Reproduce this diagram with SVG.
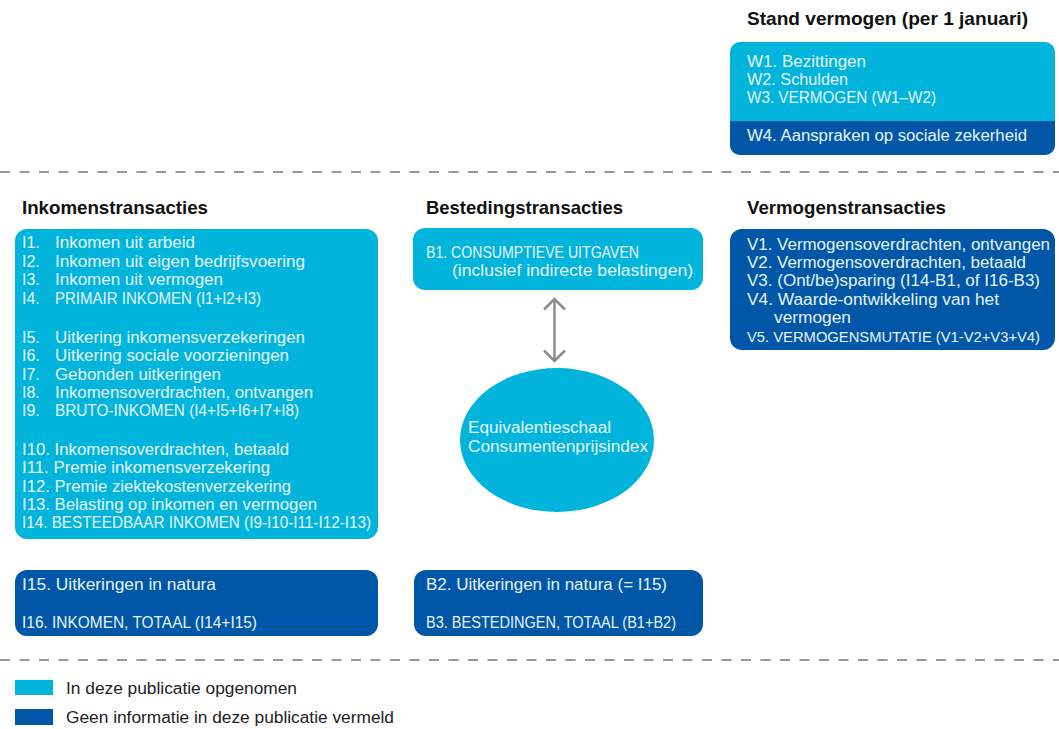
<svg xmlns="http://www.w3.org/2000/svg" width="1059" height="729" viewBox="0 0 1059 729">
<defs>
<style>
.t{font-family:"Liberation Sans",Arial,sans-serif;font-size:16px;fill:#E6F4FA}
.h{font-family:"Liberation Sans","Noto Sans",Arial,sans-serif;font-size:18.5px;font-weight:bold;fill:#111}
.lg{font-family:"Liberation Sans",Arial,sans-serif;font-size:16px;fill:#222}
.light{fill:#00B4DC}
.dark{fill:#0057A8}
.dash{stroke:#999;stroke-width:2;stroke-dasharray:10 9.5;fill:none}
</style>
<marker id="chev" viewBox="0 0 14 24" refX="12" refY="12" markerWidth="14" markerHeight="24" markerUnits="userSpaceOnUse" orient="auto-start-reverse">
<path d="M1.5,1.5 L12,12 L1.5,22.5" fill="none" stroke="#8c8c8c" stroke-width="2.5"/>
</marker>
</defs>
<rect width="1059" height="729" fill="#fff"/>

<g id="separators">
<line class="dash" x1="0" y1="172" x2="1059" y2="172"/>
<line class="dash" x1="0" y1="660" x2="1059" y2="660"/>
</g>

<g id="stand-vermogen">
<text class="h" x="747" y="25" textLength="281" lengthAdjust="spacingAndGlyphs">Stand vermogen (per 1 januari)</text>
<rect class="light" x="730" y="42" width="325" height="113" rx="10"/>
<path class="dark" d="M730,121 H1055 V145 A10,10 0 0 1 1045,155 H740 A10,10 0 0 1 730,145 Z"/>
<text class="t" x="747" y="67" textLength="119" lengthAdjust="spacingAndGlyphs">W1. Bezittingen</text>
<text class="t" x="747" y="85" textLength="101" lengthAdjust="spacingAndGlyphs">W2. Schulden</text>
<text class="t" x="747" y="103" textLength="189" lengthAdjust="spacingAndGlyphs">W3. VERMOGEN  (W1–W2)</text>
<text class="t" x="747" y="141" textLength="280" lengthAdjust="spacingAndGlyphs">W4. Aanspraken op sociale zekerheid</text>
</g>

<g id="inkomenstransacties">
<text class="h" x="22" y="214" textLength="186" lengthAdjust="spacingAndGlyphs">Inkomenstransacties</text>
<rect class="light" x="15" y="229" width="363" height="310" rx="12"/>
<text class="t" x="22" y="248">I1.</text><text class="t" x="55" y="248" textLength="140" lengthAdjust="spacingAndGlyphs">Inkomen uit arbeid</text>
<text class="t" x="22" y="267">I2.</text><text class="t" x="55" y="267" textLength="250" lengthAdjust="spacingAndGlyphs">Inkomen uit eigen bedrijfsvoering</text>
<text class="t" x="22" y="285">I3.</text><text class="t" x="55" y="285" textLength="168" lengthAdjust="spacingAndGlyphs">Inkomen uit vermogen</text>
<text class="t" x="22" y="304">I4.</text><text class="t" x="55" y="304" textLength="206" lengthAdjust="spacingAndGlyphs">PRIMAIR INKOMEN (I1+I2+I3)</text>
<text class="t" x="22" y="343">I5.</text><text class="t" x="55" y="343" textLength="250" lengthAdjust="spacingAndGlyphs">Uitkering inkomensverzekeringen</text>
<text class="t" x="22" y="361">I6.</text><text class="t" x="55" y="361" textLength="234" lengthAdjust="spacingAndGlyphs">Uitkering sociale voorzieningen</text>
<text class="t" x="22" y="380">I7.</text><text class="t" x="55" y="380" textLength="166" lengthAdjust="spacingAndGlyphs">Gebonden uitkeringen</text>
<text class="t" x="22" y="398">I8.</text><text class="t" x="55" y="398" textLength="258" lengthAdjust="spacingAndGlyphs">Inkomensoverdrachten, ontvangen</text>
<text class="t" x="22" y="416">I9.</text><text class="t" x="55" y="416" textLength="244" lengthAdjust="spacingAndGlyphs">BRUTO-INKOMEN (I4+I5+I6+I7+I8)</text>
<text class="t" x="22" y="455" textLength="267" lengthAdjust="spacingAndGlyphs">I10. Inkomensoverdrachten, betaald</text>
<text class="t" x="22" y="473" textLength="248" lengthAdjust="spacingAndGlyphs">I11. Premie inkomensverzekering</text>
<text class="t" x="22" y="492" textLength="269" lengthAdjust="spacingAndGlyphs">I12. Premie ziektekostenverzekering</text>
<text class="t" x="22" y="510" textLength="295" lengthAdjust="spacingAndGlyphs">I13. Belasting op inkomen en vermogen</text>
<text class="t" x="22" y="528" textLength="349" lengthAdjust="spacingAndGlyphs">I14. BESTEEDBAAR INKOMEN (I9-I10-I11-I12-I13)</text>
</g>

<g id="inkomen-natura">
<rect class="dark" x="15" y="570" width="363" height="66" rx="12"/>
<text class="t" x="22" y="590" textLength="194" lengthAdjust="spacingAndGlyphs">I15. Uitkeringen in natura</text>
<text class="t" x="22" y="628" textLength="235" lengthAdjust="spacingAndGlyphs">I16. INKOMEN, TOTAAL (I14+I15)</text>
</g>

<g id="bestedingstransacties">
<text class="h" x="426" y="214" textLength="197" lengthAdjust="spacingAndGlyphs">Bestedingstransacties</text>
<rect class="light" x="413" y="228" width="290" height="62" rx="12"/>
<text class="t" x="426" y="258" textLength="213" lengthAdjust="spacingAndGlyphs">B1. CONSUMPTIEVE UITGAVEN</text>
<text class="t" x="452" y="276" textLength="241" lengthAdjust="spacingAndGlyphs">(inclusief indirecte belastingen)</text>
</g>

<g id="equivalentieschaal">
<ellipse class="light" cx="557" cy="440" rx="97" ry="72"/>
<text class="t" x="468" y="433" textLength="143" lengthAdjust="spacingAndGlyphs">Equivalentieschaal</text>
<text class="t" x="468" y="452" textLength="180" lengthAdjust="spacingAndGlyphs">Consumentenprijsindex</text>
</g>

<g id="bestedingen-natura">
<rect class="dark" x="414" y="570" width="289" height="66" rx="12"/>
<text class="t" x="426" y="590" textLength="241" lengthAdjust="spacingAndGlyphs">B2. Uitkeringen in natura (= I15)</text>
<text class="t" x="426" y="628" textLength="250" lengthAdjust="spacingAndGlyphs">B3. BESTEDINGEN, TOTAAL (B1+B2)</text>
</g>

<g id="vermogenstransacties">
<text class="h" x="747" y="214" textLength="199" lengthAdjust="spacingAndGlyphs">Vermogenstransacties</text>
<rect class="dark" x="730" y="229" width="325" height="121" rx="12"/>
<text class="t" x="747" y="250" textLength="303" lengthAdjust="spacingAndGlyphs">V1. Vermogensoverdrachten, ontvangen</text>
<text class="t" x="747" y="268" textLength="279" lengthAdjust="spacingAndGlyphs">V2. Vermogensoverdrachten, betaald</text>
<text class="t" x="747" y="286" textLength="293" lengthAdjust="spacingAndGlyphs">V3. (Ont/be)sparing (I14-B1, of I16-B3)</text>
<text class="t" x="747" y="305" textLength="252" lengthAdjust="spacingAndGlyphs">V4. Waarde-ontwikkeling van het</text>
<text class="t" x="774" y="323" textLength="77" lengthAdjust="spacingAndGlyphs">vermogen</text>
<text class="t" x="747" y="342" style="font-size:15.4px" textLength="293" lengthAdjust="spacingAndGlyphs">V5. VERMOGENSMUTATIE (V1-V2+V3+V4)</text>
</g>

<g id="connectors">
<line x1="554.5" y1="299" x2="554.5" y2="361" stroke="#8c8c8c" stroke-width="2.5" marker-start="url(#chev)" marker-end="url(#chev)"/>
</g>

<g id="legend">
<rect class="light" x="15" y="680" width="38" height="15"/>
<text class="lg" x="66" y="694" textLength="231" lengthAdjust="spacingAndGlyphs">In deze publicatie opgenomen</text>
<rect class="dark" x="15" y="709" width="38" height="16"/>
<text class="lg" x="66" y="723" textLength="328" lengthAdjust="spacingAndGlyphs">Geen informatie in deze publicatie vermeld</text>
</g>
</svg>
